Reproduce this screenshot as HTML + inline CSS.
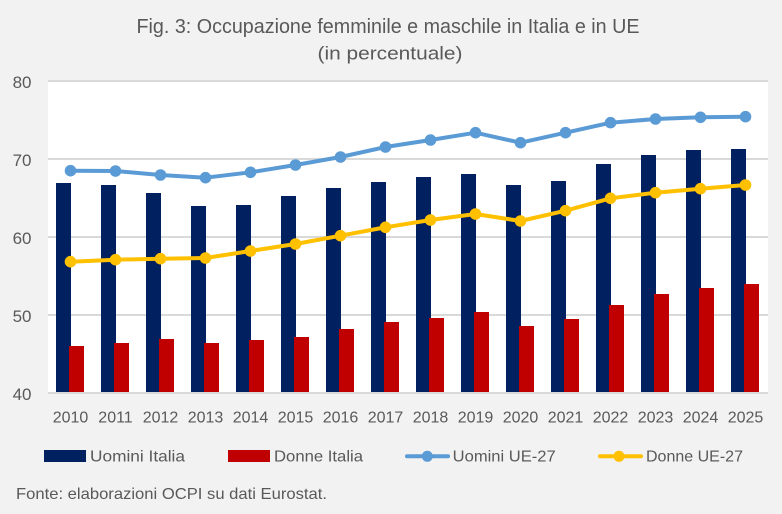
<!DOCTYPE html>
<html><head><meta charset="utf-8"><style>
html,body{margin:0;padding:0;background:#f2f2f2;}
svg{display:block;}
text{font-family:"Liberation Sans",sans-serif;fill:#595959;}
</style></head><body>
<svg width="782" height="514" viewBox="0 0 782 514" xmlns="http://www.w3.org/2000/svg">
<rect x="0" y="0" width="782" height="514" fill="#f2f2f2"/>
<text x="388" y="33" font-size="20" text-anchor="middle" textLength="503" lengthAdjust="spacingAndGlyphs">Fig. 3: Occupazione femminile e maschile in Italia e in UE</text>
<text x="390" y="59.5" font-size="18" text-anchor="middle" textLength="145" lengthAdjust="spacingAndGlyphs">(in percentuale)</text>
<rect x="48" y="80" width="720" height="313" fill="#ffffff"/>
<g stroke="#d9d9d9" stroke-width="2">
<line x1="48" y1="81" x2="768" y2="81"/>
<line x1="48" y1="159" x2="768" y2="159"/>
<line x1="48" y1="237" x2="768" y2="237"/>
<line x1="48" y1="315" x2="768" y2="315"/>
</g>
<g font-size="17" text-anchor="end">
<text x="31.5" y="88">80</text>
<text x="31.5" y="166">70</text>
<text x="31.5" y="244">60</text>
<text x="31.5" y="322">50</text>
<text x="31.5" y="400">40</text>
</g>
<g id="bars"></g>
<line x1="48" y1="393" x2="768" y2="393" stroke="#d9d9d9" stroke-width="2"/>
<g id="lines"></g>
<g id="xl" font-size="16" text-anchor="middle"></g>
<!-- legend -->
<rect x="44" y="450" width="42" height="12" fill="#002060"/>
<text x="90" y="461.5" font-size="16" textLength="95" lengthAdjust="spacingAndGlyphs">Uomini Italia</text>
<rect x="228" y="450" width="42" height="12" fill="#c00000"/>
<text x="274" y="461.5" font-size="16" textLength="89" lengthAdjust="spacingAndGlyphs">Donne Italia</text>
<line x1="407" y1="456.3" x2="448" y2="456.3" stroke="#5b9bd5" stroke-width="4" stroke-linecap="round"/>
<circle cx="427.3" cy="456.3" r="5.5" fill="#5b9bd5"/>
<text x="452.7" y="461.7" font-size="16" textLength="103" lengthAdjust="spacingAndGlyphs">Uomini UE-27</text>
<line x1="600" y1="456.3" x2="641" y2="456.3" stroke="#ffc000" stroke-width="4" stroke-linecap="round"/>
<circle cx="619" cy="456.3" r="5.5" fill="#ffc000"/>
<text x="646" y="461.7" font-size="16" textLength="97" lengthAdjust="spacingAndGlyphs">Donne UE-27</text>
<text x="16" y="499" font-size="16" textLength="311" lengthAdjust="spacingAndGlyphs">Fonte: elaborazioni OCPI su dati Eurostat.</text>
</svg>
<script>
(function(){
var ns="http://www.w3.org/2000/svg";
var navy=[183,185,193,206,205,196,188,182,177,174,185,181,164,155,150,149];
var red=[346,343,339,343,340,337,329,322,318,312,326,319,305,294,288,284];
var blue=[170.7,171,175,177.7,172.3,165,157,147,140,132.7,142.7,132.7,122.7,119,117.3,116.7];
var yel=[261.7,259.7,258.7,258,251,244,235.7,227.3,220,214,221,210.7,198.3,192.7,188.7,185];
var bars=document.getElementById("bars"),lines=document.getElementById("lines"),xl=document.getElementById("xl");
function el(t,a,p){var e=document.createElementNS(ns,t);for(var k in a)e.setAttribute(k,a[k]);p.appendChild(e);return e;}
for(var i=0;i<16;i++){
 var cx=48+45*i+22.5;
 el("rect",{x:cx-14.5,y:navy[i],width:15,height:393-navy[i],fill:"#002060"},bars);
 el("rect",{x:cx-1.5,y:red[i],width:15,height:393-red[i],fill:"#c00000"},bars);
 var t=el("text",{x:cx,y:422.5},xl);t.textContent=String(2010+i);
}
function line(d,c){
 var pts=d.map(function(v,i){return (48+45*i+22.5)+","+v;}).join(" ");
 el("polyline",{points:pts,fill:"none",stroke:c,"stroke-width":4,"stroke-linejoin":"round","stroke-linecap":"round"},lines);
 d.forEach(function(v,i){el("circle",{cx:48+45*i+22.5,cy:v,r:5.8,fill:c},lines);});
}
line(blue,"#5b9bd5");
line(yel,"#ffc000");
})();
</script>
</body></html>
